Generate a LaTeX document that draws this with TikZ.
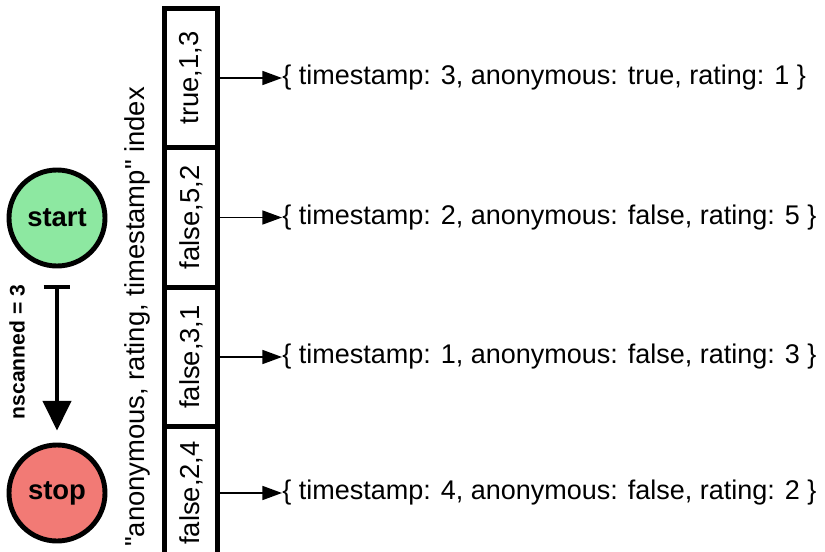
\documentclass[tikz,border=0pt]{standalone}
\usepackage{fontspec}
\setmainfont{Liberation Sans}[Ligatures=TeXOff]
\usetikzlibrary{arrows.meta,positioning}
\definecolor{startgreen}{RGB}{141,232,161}
\definecolor{stopred}{RGB}{242,122,117}
\begin{document}
\begin{tikzpicture}
			[x=0.025cm, y=-0.025cm,
			 state/.style={circle, draw, line width=3.5pt, minimum size=2.4cm, inner sep=0pt, font=\fontsize{19.5}{23}\selectfont\bfseries},
			 key/.style={rectangle, draw, line width=3.5pt, rotate=90, minimum width=3.475cm, minimum height=1.325cm, inner sep=0pt, font=\fontsize{19.5}{23}\selectfont},
			 doc/.style={anchor=west, inner sep=0pt, font=\fontsize{19.2}{23}\selectfont},
			 ptr/.style={-{Triangle[length=14pt,width=10pt]}, line width=1.1pt}]
			\useasboundingbox (0,0) rectangle (825,552);
			\clip (0,0) rectangle (825,552);
			% plan stages
			\node[state, fill=startgreen] (start) at (57,218) {start};
			\node[state, fill=stopred] (stop) at (57,493) {stop};
			\draw[{Bar[width=19pt]}-{Triangle[length=21pt,width=20pt]}, line width=2.4pt, shorten <=0.425cm, shorten >=0.3cm] (start.south) -- (stop.north);
			\node[rotate=90, font=\fontsize{15}{18}\selectfont\bfseries] (nscan) at (17,352) {nscanned = 3};
			% index keys
			\node[rotate=90, font=\fontsize{19.5}{23}\selectfont] (idx) at (137,317) {"anonymous, rating, timestamp" index};
			\node[key] (k1) at (191,78) {true,1,3};
			\node[key] (k2) at (191,217.5) {false,5,2};
			\node[key] (k3) at (191,357) {false,3,1};
			\node[key, minimum width=3.3cm] (k4) at (191,493) {false,2,4};
			% documents
			\node[doc] (d1) at (282,78) {\{ timestamp: 3, anonymous: true, rating: 1 \}};
			\node[doc] (d2) at (282,217.5) {\{ timestamp: 2, anonymous: false, rating: 5 \}};
			\node[doc] (d3) at (282,357) {\{ timestamp: 1, anonymous: false, rating: 3 \}};
			\node[doc] (d4) at (282,493) {\{ timestamp: 4, anonymous: false, rating: 2 \}};
			\draw[ptr] (k1.south) -- (d1.west);
			\draw[ptr] (k2.south) -- (d2.west);
			\draw[ptr] (k3.south) -- (d3.west);
			\draw[ptr] (k4.south) -- (d4.west);
			\end{tikzpicture}
\end{document}
